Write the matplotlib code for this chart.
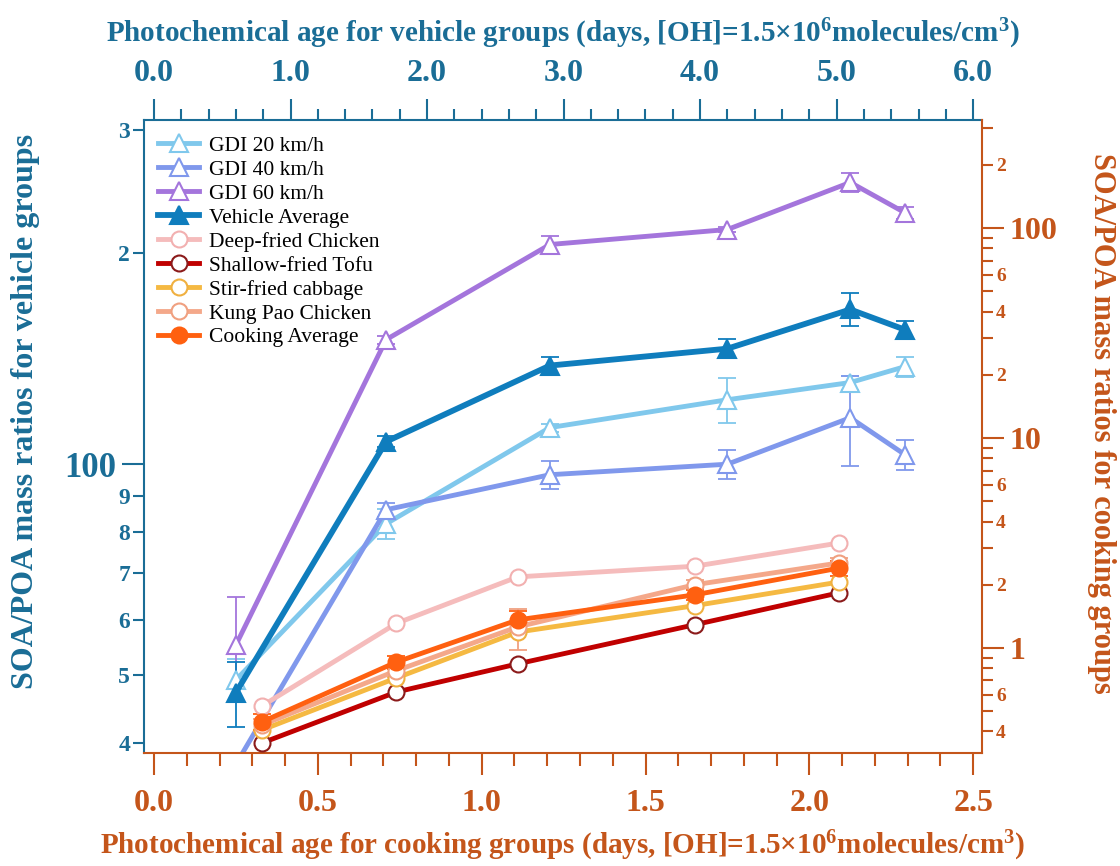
import matplotlib
matplotlib.use('Agg')
import matplotlib.pyplot as plt
from matplotlib.ticker import FixedLocator, FixedFormatter, MultipleLocator, FormatStrFormatter

plt.rcParams['font.family'] = 'Liberation Serif'
plt.rcParams['font.weight'] = 'bold'
plt.rcParams['axes.labelweight'] = 'bold'
plt.rcParams['mathtext.fontset'] = 'custom'
plt.rcParams['mathtext.rm'] = 'Liberation Serif:bold'
plt.rcParams['mathtext.it'] = 'Liberation Serif:bold'
plt.rcParams['mathtext.bf'] = 'Liberation Serif:bold'

BLUE = '#1a6d96'
ORANGE = '#c4551a'

# vehicle groups (top x axis, left y axis)
veh_age = [0.6, 1.7, 2.9, 4.2, 5.1, 5.5]
gdi20 = [49.2, 82.2, 112.8, 123.6, 130.8, 137.8]
gdi20_err = [3.5, 4.0, 1.5, 9.0, 3.0, 4.5]
gdi40 = [37.3, 86.1, 96.6, 100.0, 116.5, 103.2]
gdi40_err = [0.0, 2.0, 4.3, 4.7, 17.0, 5.0]
gdi60 = [55.2, 150.6, 205.9, 216.3, 252.5, 228.6]
gdi60_err = [9.5, 2.0, 5.5, 2.0, 8.0, 4.5]
veh_avg = [47.2, 107.7, 138.3, 146.2, 166.3, 155.6]
veh_avg_err = [5.0, 2.0, 4.0, 4.5, 9.0, 4.7]

# cooking groups (bottom x axis, right y axis)
cook_age = [0.33, 0.74, 1.11, 1.65, 2.09]
deep_fried = [0.53, 1.31, 2.18, 2.45, 3.16]
tofu = [0.353, 0.617, 0.84, 1.29, 1.83]
cabbage = [0.407, 0.72, 1.19, 1.59, 2.06]
kung_pao = [0.43, 0.78, 1.26, 2.0, 2.54]
kung_pao_err = [0.03, 0.05, 0.28, 0.1, 0.15]
cook_avg = [0.445, 0.857, 1.36, 1.79, 2.40]
cook_avg_err = [0.04, 0.06, 0.14, 0.1, 0.2]

veh_series = [
    ('GDI 20 km/h', gdi20, gdi20_err, '#80c8ec', 'white', 3.5),
    ('GDI 40 km/h', gdi40, gdi40_err, '#8098ec', 'white', 3.5),
    ('GDI 60 km/h', gdi60, gdi60_err, '#a475dc', 'white', 3.5),
    ('Vehicle Average', veh_avg, veh_avg_err, '#0f7dbd', None, 4.2),
]
cook_series = [
    ('Deep-fried Chicken', deep_fried, None, '#f5bcbc', '#f2b0b0', 'white'),
    ('Shallow-fried Tofu', tofu, None, '#c00000', '#8b1a1a', 'white'),
    ('Stir-fried cabbage', cabbage, None, '#f5b942', '#f0b040', 'white'),
    ('Kung Pao Chicken', kung_pao, kung_pao_err, '#f4a88a', '#f0a080', 'white'),
    ('Cooking Average', cook_avg, cook_avg_err, '#ff6010', '#ff6010', '#ff6010'),
]

fig = plt.figure(figsize=(11.2, 8.66), dpi=100)
rect = [0.1286, 0.1305, 0.7482, 0.7309]
ax_v = fig.add_axes(rect)
ax_c = fig.add_axes(rect, facecolor='none')

handles = []
for label, vals, err, color, face, lw in veh_series:
    ax_v.errorbar(veh_age, vals, yerr=err, fmt='none', ecolor=color,
                  elinewidth=1.3, capsize=6.5, capthick=1.3, zorder=2)
    h, = ax_v.plot(veh_age, vals, color=color, lw=lw, marker='^', ms=13,
                   mfc=face if face else color, mec=color, mew=1.5,
                   label=label, zorder=3)
    handles.append(h)

for label, vals, err, color, edge, face in cook_series:
    if err is not None:
        ax_c.errorbar(cook_age, vals, yerr=err, fmt='none', ecolor=edge,
                      elinewidth=1.3, capsize=6.5, capthick=1.3, zorder=2)
    h, = ax_c.plot(cook_age, vals, color=color, lw=3.5, marker='o', ms=11.5,
                   mfc=face, mec=edge, mew=1.5, label=label, zorder=3)
    handles.append(h)

# vehicle axes: top x, left log y
ax_v.set_yscale('log')
ax_v.set_xlim(-0.073, 6.065)
ax_v.set_ylim(38.7, 310)
ax_v.xaxis.tick_top()
ax_v.xaxis.set_label_position('top')
ax_v.xaxis.set_major_locator(MultipleLocator(1.0))
ax_v.xaxis.set_minor_locator(MultipleLocator(0.2))
ax_v.xaxis.set_major_formatter(FormatStrFormatter('%.1f'))
ax_v.yaxis.set_major_locator(FixedLocator([100]))
ax_v.yaxis.set_major_formatter(FixedFormatter(['100']))
v_minor = [40, 50, 60, 70, 80, 90, 200, 300]
ax_v.yaxis.set_minor_locator(FixedLocator(v_minor))
ax_v.yaxis.set_minor_formatter(FixedFormatter(['4', '5', '6', '7', '8', '9', '2', '3']))
ax_v.tick_params(axis='x', which='major', direction='out', length=15, width=1.5,
                 colors=BLUE, labelsize=23, pad=8)
ax_v.tick_params(axis='x', which='minor', direction='out', length=8, width=1.5, colors=BLUE)
ax_v.tick_params(axis='y', which='major', direction='out', length=16, width=1.5,
                 colors=BLUE, labelsize=25, pad=4)
ax_v.tick_params(axis='y', which='minor', direction='out', length=8, width=1.5,
                 colors=BLUE, labelsize=17, pad=2)
for side in ('bottom', 'right'):
    ax_v.spines[side].set_visible(False)
for side in ('top', 'left'):
    ax_v.spines[side].set_color(BLUE)
    ax_v.spines[side].set_linewidth(1.5)
ax_v.set_xlabel('Photochemical age for vehicle groups (days, [OH]=1.5×10$^{6}$molecules/cm$^{3}$)',
                color=BLUE, fontsize=21, labelpad=12)
ax_v.set_ylabel('SOA/POA mass ratios for vehicle groups', color=BLUE, fontsize=23,
                va='center', ha='center')
ax_v.yaxis.set_label_coords(-0.142, 0.54)

# cooking axes: bottom x, right log y
ax_c.set_yscale('log')
ax_c.set_xlim(-0.0305, 2.527)
ax_c.set_ylim(0.316, 327)
ax_c.yaxis.tick_right()
ax_c.yaxis.set_label_position('right')
ax_c.xaxis.set_major_locator(MultipleLocator(0.5))
ax_c.xaxis.set_minor_locator(MultipleLocator(0.1))
ax_c.xaxis.set_major_formatter(FormatStrFormatter('%.1f'))
ax_c.yaxis.set_major_locator(FixedLocator([1, 10, 100]))
ax_c.yaxis.set_major_formatter(FixedFormatter(['1', '10', '100']))
c_minor = [0.4, 0.5, 0.6, 0.7, 0.8, 0.9]
for dec in (1, 10, 100):
    c_minor += [dec * k for k in range(2, 10)]
c_minor = [v for v in c_minor if v <= 327]
c_minor_labels = []
for v in c_minor:
    lead = round(v / 10 ** int(f'{v:e}'.split('e')[1]))
    c_minor_labels.append(str(lead) if lead in (2, 4, 6) and not (v > 250) else '')
ax_c.yaxis.set_minor_locator(FixedLocator(c_minor))
ax_c.yaxis.set_minor_formatter(FixedFormatter(c_minor_labels))
ax_c.tick_params(axis='x', which='major', direction='out', length=16, width=1.5,
                 colors=ORANGE, labelsize=23, pad=10)
ax_c.tick_params(axis='x', which='minor', direction='out', length=9, width=1.5, colors=ORANGE)
ax_c.tick_params(axis='y', which='major', direction='out', length=16, width=1.5,
                 colors=ORANGE, labelsize=23, pad=4)
ax_c.tick_params(axis='y', which='minor', direction='out', length=8, width=1.5,
                 colors=ORANGE, labelsize=14, pad=2)
for side in ('top', 'left'):
    ax_c.spines[side].set_visible(False)
for side in ('bottom', 'right'):
    ax_c.spines[side].set_color(ORANGE)
    ax_c.spines[side].set_linewidth(1.5)
ax_c.set_xlabel('Photochemical age for cooking groups (days, [OH]=1.5×10$^{6}$molecules/cm$^{3}$)',
                color=ORANGE, fontsize=21, labelpad=8)
ax_c.set_ylabel('SOA/POA mass ratios for cooking groups', color=ORANGE, fontsize=22,
                rotation=270, va='center', ha='center')
ax_c.yaxis.set_label_coords(1.142, 0.52)

ax_c.legend(handles=handles, loc='upper left', bbox_to_anchor=(0.017, 0.975),
            frameon=False, prop={'family': 'Liberation Serif', 'weight': 'normal', 'size': 15.5},
            handlelength=1.9, handletextpad=0.45, labelspacing=0.18, borderaxespad=0,
            borderpad=0)

fig.savefig('out.png', dpi=100)
